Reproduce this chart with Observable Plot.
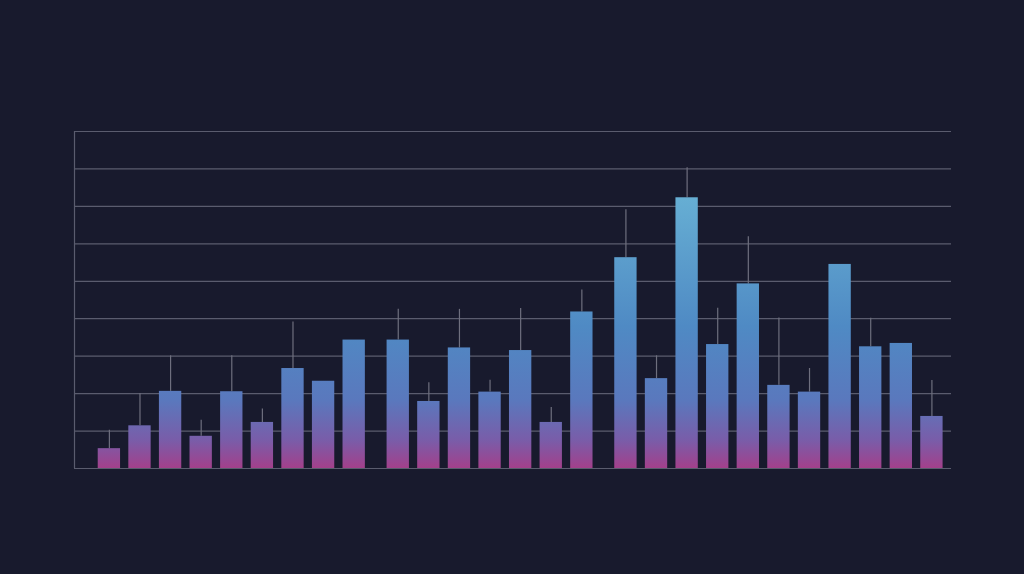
<!DOCTYPE html>
<html><head><meta charset="utf-8">
<script src="https://cdn.jsdelivr.net/npm/d3@7"></script>
<script src="https://cdn.jsdelivr.net/npm/@observablehq/plot@0.6"></script>
<style>html,body{margin:0;padding:0;background:#181a2d;overflow:hidden}</style>
</head><body><div id="chart"></div>
<script>
const categories = ["B1","B2","B3","B4","B5","B6","B7","B8","B9","B10","B11","B12","B13","B14","B15","B16","B17","B18","B19","B20","B21","B22","B23","B24","B25","B26","B27"];
const groups = [0,0,0,0,0,0,0,0,0, 1,1,1,1,1,1,1, 2,2,2,2,2,2,2,2,2,2,2];
const values = [5.3,11.4,20.6,8.6,20.5,12.3,26.7,23.3,34.3, 34.3,17.9,32.2,20.4,31.5,12.3,41.8, 56.3,24.0,72.3,33.1,49.3,22.2,20.4,54.5,32.5,33.4,13.9];
const errors = [10.2,20.0,30.1,12.9,30.1,15.9,39.1,null,null, 42.5,22.9,42.5,23.6,42.7,16.3,47.7, 69.1,30.1,80.3,42.8,61.9,40.2,26.7,null,40.1,null,23.5];
const gridTicks = [0,10,20,30,40,50,60,70,80,90];

const GAP = 0.44, HALF = 0.365;
const data = categories.map((c, i) => ({c, v: values[i], e: errors[i], pos: i + groups[i] * GAP}));
const X0 = -1.14, X1 = 27.52;

const chart = Plot.plot({
  width: 1024, height: 574,
  marginTop: 131, marginBottom: 106, marginLeft: 74, marginRight: 73,
  style: {background: "#181a2d"},
  x: {type: "linear", domain: [X0, X1], axis: null},
  y: {domain: [0, 90], axis: null},
  marks: [
    Plot.ruleY(gridTicks, {stroke: "#5a5c6e", strokeWidth: 1.2}),
    Plot.ruleX([X0], {y1: 0, y2: 90, stroke: "#5a5c6e", strokeWidth: 1.2}),
    Plot.ruleX(data.filter(d => d.e != null), {x: "pos", y1: "v", y2: "e", stroke: "#6e6f7e", strokeWidth: 1.2}),
    Plot.rectY(data, {x1: d => d.pos - HALF, x2: d => d.pos + HALF, y: "v", fill: "url(#barGrad)"})
  ]
});

const ys = chart.scale("y");
const ns = "http://www.w3.org/2000/svg";
const defs = document.createElementNS(ns, "defs");
const grad = document.createElementNS(ns, "linearGradient");
grad.setAttribute("id", "barGrad");
grad.setAttribute("gradientUnits", "userSpaceOnUse");
grad.setAttribute("x1", 0); grad.setAttribute("x2", 0);
grad.setAttribute("y1", ys.apply(0)); grad.setAttribute("y2", ys.apply(90));
[[0, "#a3408b"], [0.08, "#7a5ca8"], [0.2, "#5a78bd"], [0.42, "#4f8ac4"], [0.8, "#66aed3"], [1, "#70bad8"]].forEach(([o, c]) => {
  const s = document.createElementNS(ns, "stop");
  s.setAttribute("offset", o); s.setAttribute("stop-color", c);
  grad.appendChild(s);
});
defs.appendChild(grad);
chart.insertBefore(defs, chart.firstChild);
document.getElementById("chart").appendChild(chart);
</script>
</body></html>
